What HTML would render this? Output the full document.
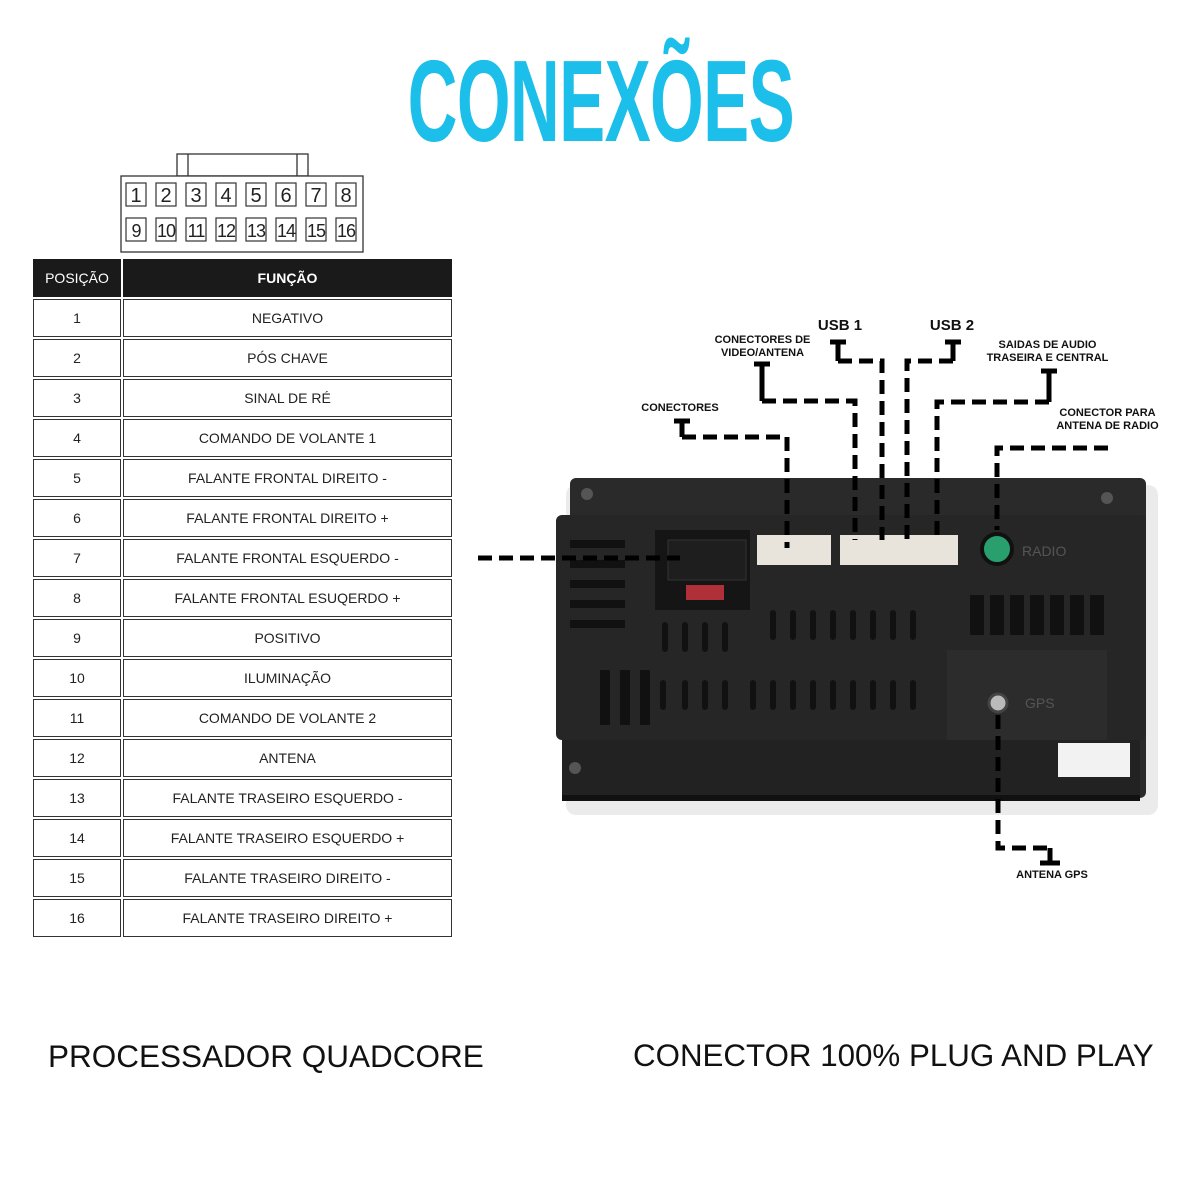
<!DOCTYPE html>
<html><head><meta charset="utf-8"><style>
body{margin:0;width:1200px;height:1200px;background:#fff;position:relative;overflow:hidden;font-family:"Liberation Sans",sans-serif}
.t{position:absolute;left:0;width:1200px;top:36px;text-align:center;color:#1cbfe9;font-weight:bold;font-size:116px;letter-spacing:-1px;transform:scaleX(0.595);transform-origin:602px 0;line-height:130px}
table{position:absolute;left:31px;top:257px;border-collapse:separate;border-spacing:2px}
td{border:1px solid #333;height:36px;text-align:center;font-size:14px;color:#222;padding:0}
td.a{width:86px}td.b{width:327px}
tr.h td{background:#1a1a1a;color:#fff;border-color:#1a1a1a}
.big{position:absolute;top:1038px;color:#111}
.lbl{position:absolute;font-weight:bold;font-size:11px;text-align:center;color:#111;line-height:13px}
</style></head><body>
<div class="t">CONEXÕES</div>
<svg style="position:absolute;left:0;top:0" width="1200" height="1200">
<g fill="none" stroke="#333" stroke-width="1.3">
<rect x="177" y="154" width="131" height="22"/><line x1="188" y1="154" x2="188" y2="176"/><line x1="297" y1="154" x2="297" y2="176"/>
<rect x="121" y="176" width="242" height="76" fill="#fff"/>
</g>
<g font-size="20" fill="#222" font-family="Liberation Sans" text-anchor="middle">
<g fill="none" stroke="#333" stroke-width="1.2">
<rect x="126" y="183" width="20" height="23"/><rect x="156" y="183" width="20" height="23"/><rect x="186" y="183" width="20" height="23"/><rect x="216" y="183" width="20" height="23"/><rect x="246" y="183" width="20" height="23"/><rect x="276" y="183" width="20" height="23"/><rect x="306" y="183" width="20" height="23"/><rect x="336" y="183" width="20" height="23"/>
<rect x="126" y="218" width="20" height="23"/><rect x="156" y="218" width="20" height="23"/><rect x="186" y="218" width="20" height="23"/><rect x="216" y="218" width="20" height="23"/><rect x="246" y="218" width="20" height="23"/><rect x="276" y="218" width="20" height="23"/><rect x="306" y="218" width="20" height="23"/><rect x="336" y="218" width="20" height="23"/>
</g>
<text x="136" y="202">1</text><text x="166" y="202">2</text><text x="196" y="202">3</text><text x="226" y="202">4</text><text x="256" y="202">5</text><text x="286" y="202">6</text><text x="316" y="202">7</text><text x="346" y="202">8</text>
<g font-size="18" letter-spacing="-1"><text x="136" y="237">9</text><text x="166" y="237">10</text><text x="196" y="237">11</text><text x="226" y="237">12</text><text x="256" y="237">13</text><text x="286" y="237">14</text><text x="316" y="237">15</text><text x="346" y="237">16</text></g>
</g>
<rect x="566" y="485" width="592" height="330" rx="10" fill="#d8d8d8" opacity=".5"/>
<rect x="570" y="478" width="576" height="320" rx="6" fill="#2a2a2a"/>
<rect x="556" y="515" width="590" height="225" rx="6" fill="#262626"/>
<rect x="562" y="740" width="578" height="58" fill="#222"/>
<rect x="562" y="795" width="578" height="6" fill="#111"/>
<rect x="655" y="530" width="95" height="80" fill="#151515"/>
<rect x="668" y="540" width="78" height="40" fill="#1e1e1e" stroke="#333"/>
<rect x="686" y="585" width="38" height="15" fill="#b0303a"/>
<rect x="757" y="535" width="74" height="30" fill="#e8e4dc"/>
<rect x="840" y="535" width="118" height="30" fill="#e8e4dc"/>
<circle cx="997" cy="549" r="15" fill="#2a9f6e" stroke="#111" stroke-width="4"/>
<text x="1022" y="556" fill="#555" font-size="14">RADIO</text>
<rect x="947" y="650" width="160" height="90" fill="#2c2c2c"/>
<circle cx="998" cy="703" r="9" fill="#bbb" stroke="#444" stroke-width="3"/>
<text x="1025" y="708" fill="#555" font-size="14">GPS</text>
<g fill="#111">
<rect x="570" y="540" width="55" height="8"/><rect x="570" y="560" width="55" height="8"/><rect x="570" y="580" width="55" height="8"/><rect x="570" y="600" width="55" height="8"/><rect x="570" y="620" width="55" height="8"/>
<rect x="662" y="622" width="6" height="30" rx="3"/><rect x="682" y="622" width="6" height="30" rx="3"/><rect x="702" y="622" width="6" height="30" rx="3"/><rect x="722" y="622" width="6" height="30" rx="3"/>
<rect x="770" y="610" width="6" height="30" rx="3"/><rect x="790" y="610" width="6" height="30" rx="3"/><rect x="810" y="610" width="6" height="30" rx="3"/><rect x="830" y="610" width="6" height="30" rx="3"/><rect x="850" y="610" width="6" height="30" rx="3"/><rect x="870" y="610" width="6" height="30" rx="3"/><rect x="890" y="610" width="6" height="30" rx="3"/><rect x="910" y="610" width="6" height="30" rx="3"/>
<rect x="970" y="595" width="14" height="40"/><rect x="990" y="595" width="14" height="40"/><rect x="1010" y="595" width="14" height="40"/><rect x="1030" y="595" width="14" height="40"/><rect x="1050" y="595" width="14" height="40"/><rect x="1070" y="595" width="14" height="40"/><rect x="1090" y="595" width="14" height="40"/>
<rect x="600" y="670" width="10" height="55"/><rect x="620" y="670" width="10" height="55"/><rect x="640" y="670" width="10" height="55"/><rect x="660" y="680" width="6" height="30" rx="3"/><rect x="682" y="680" width="6" height="30" rx="3"/><rect x="702" y="680" width="6" height="30" rx="3"/><rect x="722" y="680" width="6" height="30" rx="3"/><rect x="750" y="680" width="6" height="30" rx="3"/><rect x="770" y="680" width="6" height="30" rx="3"/><rect x="790" y="680" width="6" height="30" rx="3"/><rect x="810" y="680" width="6" height="30" rx="3"/><rect x="830" y="680" width="6" height="30" rx="3"/><rect x="850" y="680" width="6" height="30" rx="3"/><rect x="870" y="680" width="6" height="30" rx="3"/><rect x="890" y="680" width="6" height="30" rx="3"/><rect x="910" y="680" width="6" height="30" rx="3"/>
</g>
<rect x="1058" y="743" width="72" height="34" fill="#f2f2f2"/>
<g fill="#555"><circle cx="587" cy="494" r="6"/><circle cx="1107" cy="498" r="6"/><circle cx="575" cy="768" r="6"/></g>
<g fill="none" stroke="#000" stroke-width="5" stroke-dasharray="14,7">
<path d="M478 558H680"/>
<path d="M682 437H787V548"/>
<path d="M762 401H855V540"/>
<path d="M838 361H882V540"/>
<path d="M953 361H907V540"/>
<path d="M1049 402H937V540"/>
<path d="M1108 448H997V530"/>
<path d="M998 715V848H1050"/>
</g>
<g stroke="#000" stroke-width="5" fill="none">
<path d="M682 437V421M674 421H690"/>
<path d="M762 401V364M754 364H770"/>
<path d="M838 361V342M830 342H846"/>
<path d="M953 361V342M945 342H961"/>
<path d="M1049 402V371M1041 371H1057"/>
<path d="M1050 848V863M1040 863H1060"/>
</g>
</svg>
<table>
<tr class="h"><td class="a">POSIÇÃO</td><td class="b"><b>FUNÇÃO</b></td></tr>
<tr><td class="a">1</td><td class="b">NEGATIVO</td></tr>
<tr><td class="a">2</td><td class="b">PÓS CHAVE</td></tr>
<tr><td class="a">3</td><td class="b">SINAL DE RÉ</td></tr>
<tr><td class="a">4</td><td class="b">COMANDO DE VOLANTE 1</td></tr>
<tr><td class="a">5</td><td class="b">FALANTE FRONTAL DIREITO -</td></tr>
<tr><td class="a">6</td><td class="b">FALANTE FRONTAL DIREITO +</td></tr>
<tr><td class="a">7</td><td class="b">FALANTE FRONTAL ESQUERDO -</td></tr>
<tr><td class="a">8</td><td class="b">FALANTE FRONTAL ESUQERDO +</td></tr>
<tr><td class="a">9</td><td class="b">POSITIVO</td></tr>
<tr><td class="a">10</td><td class="b">ILUMINAÇÃO</td></tr>
<tr><td class="a">11</td><td class="b">COMANDO DE VOLANTE 2</td></tr>
<tr><td class="a">12</td><td class="b">ANTENA</td></tr>
<tr><td class="a">13</td><td class="b">FALANTE TRASEIRO ESQUERDO -</td></tr>
<tr><td class="a">14</td><td class="b">FALANTE TRASEIRO ESQUERDO +</td></tr>
<tr><td class="a">15</td><td class="b">FALANTE TRASEIRO DIREITO -</td></tr>
<tr><td class="a">16</td><td class="b">FALANTE TRASEIRO DIREITO +</td></tr>
</table>
<div class="lbl" style="left:630px;top:402px;width:100px">CONECTORES</div>
<div class="lbl" style="left:705px;top:334px;width:115px">CONECTORES DE VIDEO/ANTENA</div>
<div class="lbl" style="left:810px;top:319px;width:60px;font-size:15px">USB 1</div>
<div class="lbl" style="left:922px;top:319px;width:60px;font-size:15px">USB 2</div>
<div class="lbl" style="left:985px;top:339px;width:125px">SAIDAS DE AUDIO TRASEIRA E CENTRAL</div>
<div class="lbl" style="left:1050px;top:407px;width:115px">CONECTOR PARA ANTENA DE RADIO</div>
<div class="lbl" style="left:1000px;top:869px;width:104px">ANTENA GPS</div>
<div class="big" style="left:48px;font-size:31.5px">PROCESSADOR QUADCORE</div>
<div class="big" style="left:633px;font-size:31.3px">CONECTOR 100% PLUG AND PLAY</div>
</body></html>
